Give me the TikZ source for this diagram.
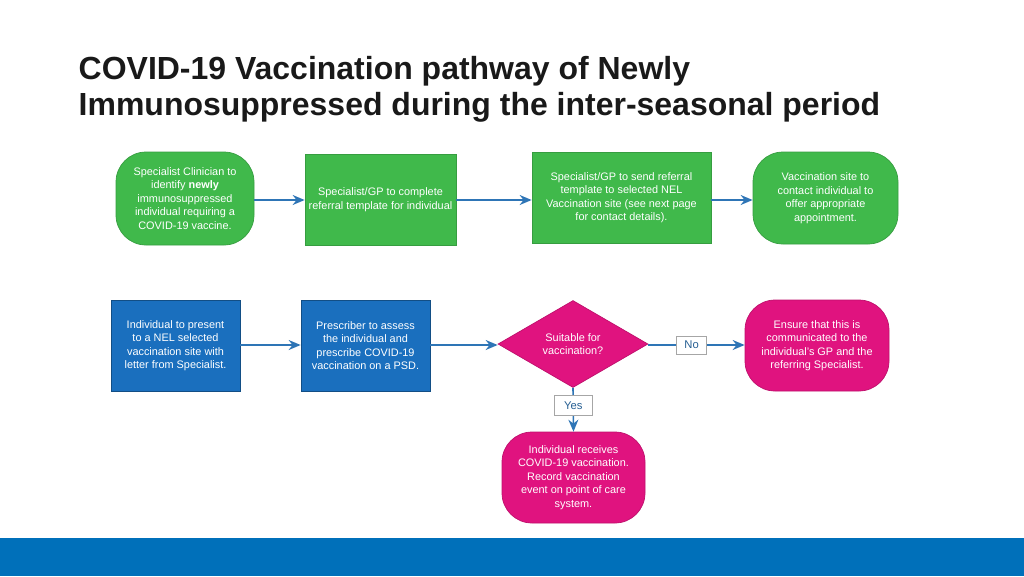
\documentclass[tikz,border=0pt]{standalone}
\usepackage{fontspec}
\setmainfont{Liberation Sans}
\usetikzlibrary{shapes.geometric,arrows.meta}
\definecolor{grn}{RGB}{64,185,75}
\definecolor{blu}{RGB}{26,111,190}
\definecolor{mag}{RGB}{224,19,127}
\definecolor{arr}{RGB}{46,117,182}
\definecolor{bar}{RGB}{0,112,186}
\tikzset{
 txt/.style={font=\fontsize{3.1}{3.85}\selectfont, text=white, align=center, inner sep=0pt},
 gbox/.style={txt, fill=grn, draw=grn!85!black, line width=0.2pt},
 bbox/.style={txt, fill=blu, draw=blu!70!black, line width=0.2pt},
 mbox/.style={txt, fill=mag, draw=mag!85!black, line width=0.2pt, rounded corners=0.3cm},
 conn/.style={draw=arr, line width=0.45pt, -{Stealth[length=1.2mm,width=1mm]}},
 lab/.style={font=\fontsize{3.2}{3.85}\selectfont, text=arr!80!black, fill=white, draw=black!35, line width=0.2pt, minimum width=0.3cm, minimum height=0.18cm, inner sep=0pt}
}
\begin{document}
\begin{tikzpicture}
\useasboundingbox (0,0) rectangle (10.24,5.76);
\fill[bar] (0,0) rectangle (10.24,0.38);
\node[anchor=north west, align=left, font=\bfseries\fontsize{9.1}{10}\selectfont, inner sep=0pt, text=black!90] (title) at (0.78,5.20)
 {COVID-19 Vaccination pathway of Newly\\Immunosuppressed during the inter-seasonal period};
% row 1
\node[gbox, rounded corners=0.3cm, minimum width=1.38cm, minimum height=0.93cm] (a) at (1.85,3.775)
 {Specialist Clinician to\\identify \textbf{newly}\\immunosuppressed\\individual requiring a\\COVID-19 vaccine.};
\node[gbox, minimum width=1.51cm, minimum height=0.91cm] (b) at (3.805,3.765)
 {Specialist/GP to complete\\referral template for individual};
\node[gbox, minimum width=1.79cm, minimum height=0.91cm] (c) at (6.215,3.785)
 {Specialist/GP to send referral\\template to selected NEL\\Vaccination site (see next page\\for contact details).};
\node[gbox, rounded corners=0.3cm, minimum width=1.45cm, minimum height=0.92cm] (d) at (8.255,3.78)
 {Vaccination site to\\contact individual to\\offer appropriate\\appointment.};
\coordinate (r1) at (0,3.76);
\draw[conn] (a.east |- r1) -- (b.west |- r1);
\draw[conn] (b.east |- r1) -- (c.west |- r1);
\draw[conn] (c.east |- r1) -- (d.west |- r1);
% row 2
\node[bbox, minimum width=1.29cm, minimum height=0.91cm] (e) at (1.755,2.305)
 {Individual to present\\to a NEL selected\\vaccination site with\\letter from Specialist.};
\node[bbox, minimum width=1.29cm, minimum height=0.91cm] (f) at (3.655,2.305)
 {Prescriber to assess\\the individual and\\prescribe COVID-19\\vaccination on a PSD.};
\node[diamond, fill=mag, draw=mag!85!black, line width=0.2pt, minimum width=1.5cm, minimum height=0.87cm, inner sep=0pt] (g) at (5.73,2.32) {};
\node[txt] at (g) {Suitable for\\vaccination?};
\node[mbox, minimum width=1.44cm, minimum height=0.91cm] (h) at (8.17,2.305)
 {Ensure that this is\\communicated to the\\individual's GP and the\\referring Specialist.};
\node[mbox, minimum width=1.43cm, minimum height=0.91cm] (i) at (5.735,0.985)
 {Individual receives\\COVID-19 vaccination.\\Record vaccination\\event on point of care\\system.};
\coordinate (r2) at (0,2.31);
\draw[conn] (e.east |- r2) -- (f.west |- r2);
\draw[conn] (f.east |- r2) -- (g.west |- r2);
\draw[conn] (g.east |- r2) -- (h.west |- r2) node[lab, pos=0.45] (no) {No};
\draw[conn] (g.south) -- (i.north) node[lab, pos=0.4, minimum width=0.38cm, minimum height=0.2cm] (yes) {Yes};
\end{tikzpicture}
\end{document}
